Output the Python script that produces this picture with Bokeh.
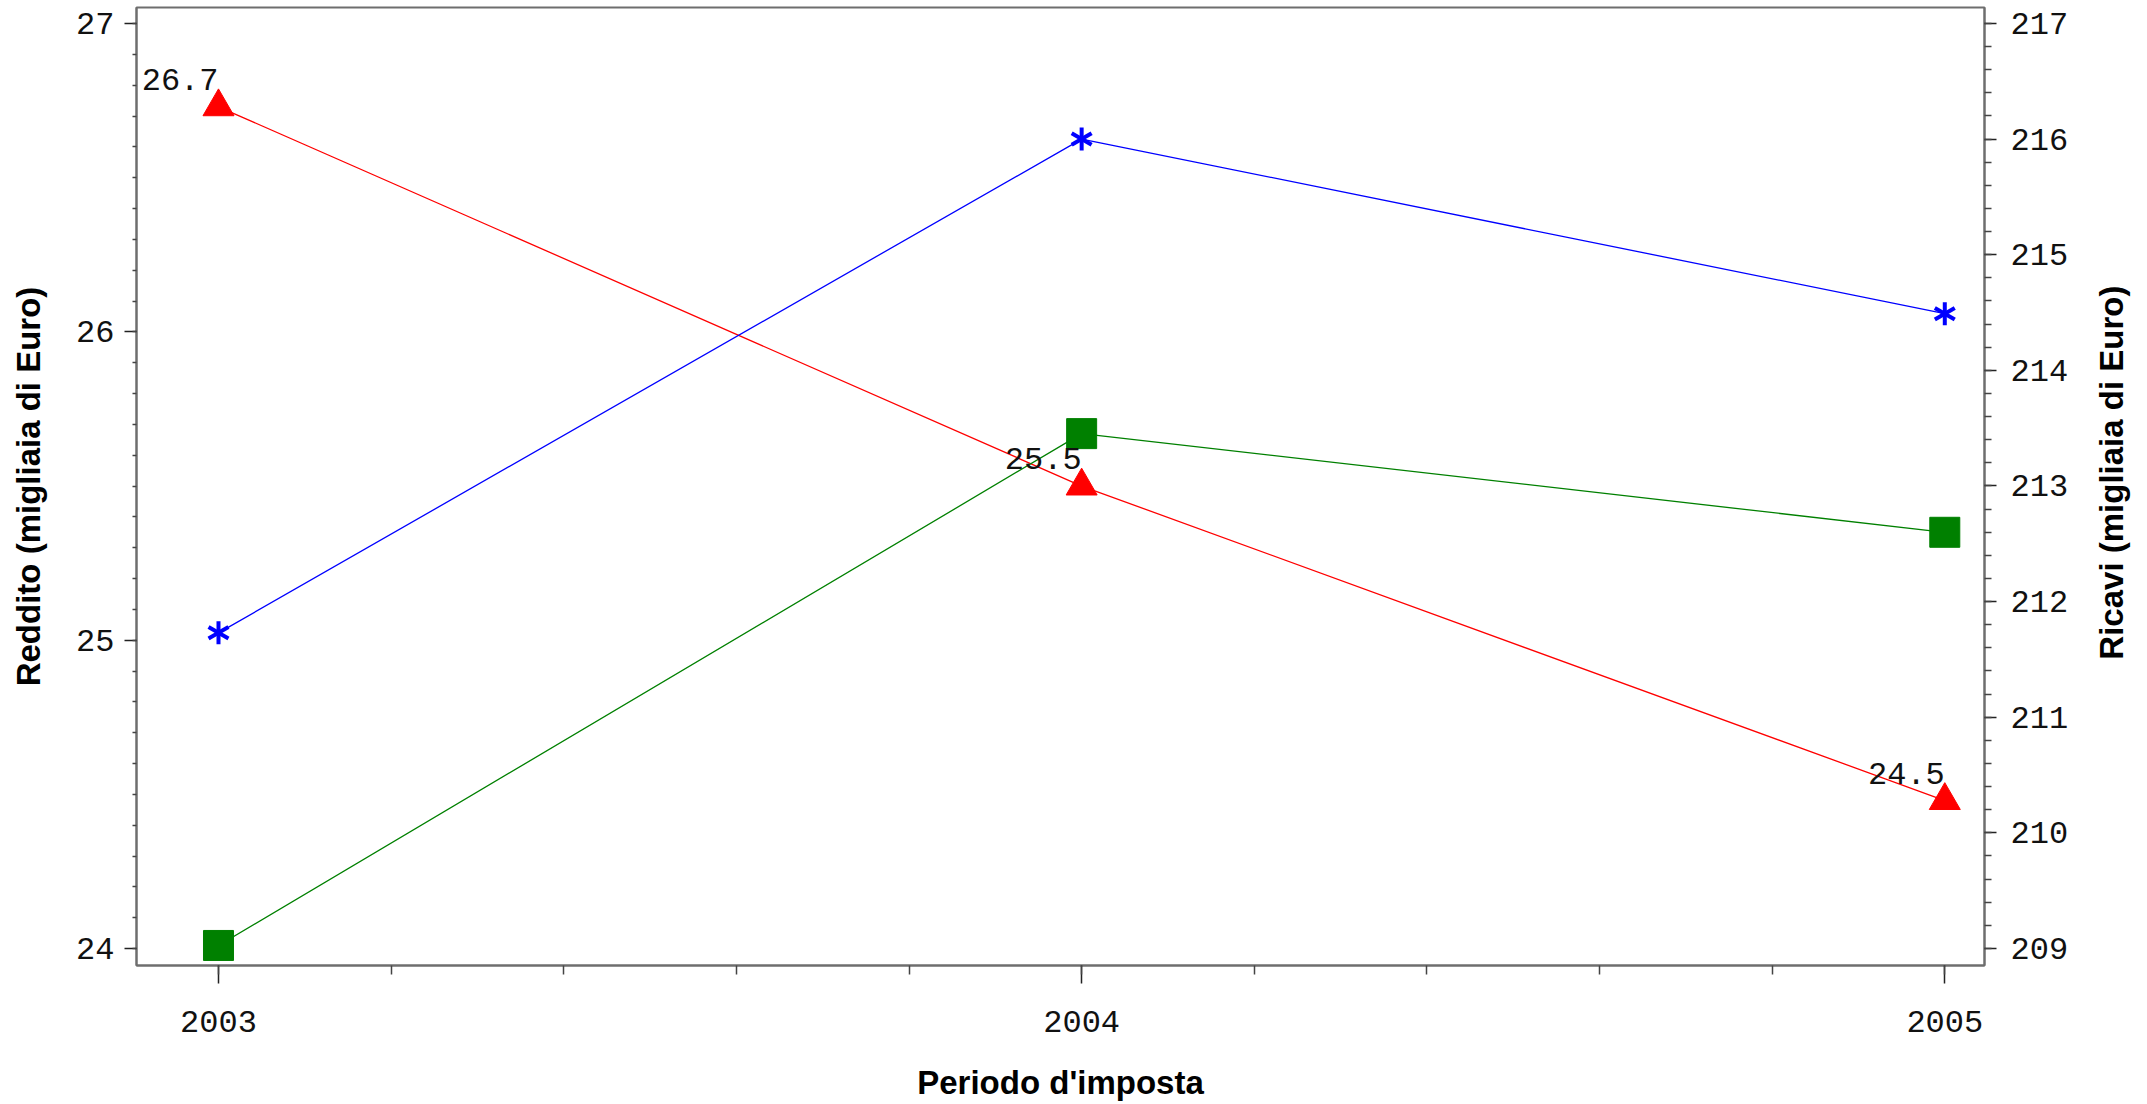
import math
from bokeh.plotting import figure
from bokeh.layouts import row
from bokeh.models import Range1d, LinearAxis, SingleIntervalTicker, ColumnDataSource, LabelSet
from bokeh.embed import file_html
from bokeh.resources import INLINE
from bokeh.core.properties import value

years = [2003, 2004, 2005]
reddito = [26.73, 25.50, 24.48]
reddito_labels = ["26.7", "25.5", "24.5"]
serie_verde = [24.01, 25.67, 25.35]
ricavi = [211.73, 216.00, 214.49]

x_label = "Periodo d'imposta"
y_label_left = "Reddito (migliaia di Euro)"
y_label_right = "Ricavi (migliaia di Euro)"

MONO = "Liberation Mono"
SANS = "Liberation Sans"
AXIS_GRAY = "#6e6e6e"

FRAME_W, FRAME_H = 1848, 958

p = figure(frame_width=FRAME_W, frame_height=FRAME_H, output_backend="svg", toolbar_location=None,
           x_range=Range1d(2002.905, 2005.046), y_range=Range1d(23.945, 27.052),
           min_border_left=136, min_border_top=7, min_border_right=94, min_border_bottom=5,
           x_axis_type=None, y_axis_type=None)
p.extra_y_ranges = {"ricavi": Range1d(208.853, 217.138)}
p.xgrid.visible = False
p.ygrid.visible = False
p.outline_line_color = AXIS_GRAY
p.outline_line_width = 2

def style_axis(ax):
    ax.axis_line_color = AXIS_GRAY
    ax.axis_line_width = 2
    ax.major_tick_line_color = "#222222"
    ax.minor_tick_line_color = "#444444"
    ax.major_tick_line_width = 1.5
    ax.minor_tick_line_width = 1.5
    ax.major_tick_in = 0
    ax.minor_tick_in = 0
    ax.major_label_text_font = MONO
    ax.major_label_text_font_size = "32px"
    ax.major_label_text_color = "#111111"
    ax.axis_label_text_font = SANS
    ax.axis_label_text_font_size = "33px"
    ax.axis_label_text_font_style = "bold"
    ax.axis_label_text_color = "black"

xaxis = LinearAxis(ticker=SingleIntervalTicker(interval=1, num_minor_ticks=5), axis_label=x_label)
style_axis(xaxis)
xaxis.major_tick_out = 18
xaxis.minor_tick_out = 9
xaxis.major_label_standoff = 27
xaxis.axis_label_standoff = 29
p.add_layout(xaxis, "below")

yleft = LinearAxis(ticker=SingleIntervalTicker(interval=1, num_minor_ticks=10), axis_label=y_label_left)
style_axis(yleft)
yleft.major_tick_out = 12
yleft.minor_tick_out = 4
yleft.major_label_standoff = 10
yleft.axis_label_standoff = 26
p.add_layout(yleft, "left")

yright = LinearAxis(y_range_name="ricavi", ticker=SingleIntervalTicker(interval=1, num_minor_ticks=5))
style_axis(yright)
yright.major_tick_out = 12
yright.minor_tick_out = 7
yright.major_label_standoff = 14
p.add_layout(yright, "right")

src_r = ColumnDataSource(dict(x=years, y=reddito, t=reddito_labels))
src_g = ColumnDataSource(dict(x=years, y=serie_verde))
src_b = ColumnDataSource(dict(x=years, y=ricavi))

p.line("x", "y", source=src_r, line_color="#ff0000", line_width=1.3)
p.line("x", "y", source=src_g, line_color="#008000", line_width=1.3)
p.line("x", "y", source=src_b, line_color="#0000ff", line_width=1.3, y_range_name="ricavi")

p.scatter("x", "y", source=src_g, marker="square", size=30, fill_color="#008000", line_color="#008000")
p.scatter("x", "y", source=src_r, marker="triangle", size=31, fill_color="#ff0000", line_color="#ff0000")
for ang in (math.pi / 2, math.pi / 6, -math.pi / 6):
    p.scatter("x", "y", source=src_b, marker="dash", size=23, angle=ang, line_color="#0000ff",
              line_width=4, y_range_name="ricavi")

labels = LabelSet(x="x", y="y", text="t", source=src_r, text_font=value(MONO),
                  text_font_size=value("32px"), text_align="right", text_baseline="alphabetic",
                  x_offset=0, y_offset=17, text_color="#111111")
p.add_layout(labels)

# narrow strip to the right holding the right-axis title (reads bottom-to-top like the left one)
STRIP_W, STRIP_H = 60, 1000
p2 = figure(width=STRIP_W, height=STRIP_H, output_backend="svg", toolbar_location=None,
            x_range=Range1d(0, STRIP_W), y_range=Range1d(0, STRIP_H),
            min_border=0, x_axis_type=None, y_axis_type=None)
p2.xgrid.visible = False
p2.ygrid.visible = False
p2.outline_line_color = None
p2.text(x=[33], y=[456], text=[y_label_right], angle=math.pi / 2,
        text_align="center", text_baseline="alphabetic", text_font=value(SANS),
        text_font_size=value("33px"), text_font_style="bold", text_color="black")

layout = row(p, p2, spacing=0)
open("out.html", "w").write(file_html(layout, INLINE))
